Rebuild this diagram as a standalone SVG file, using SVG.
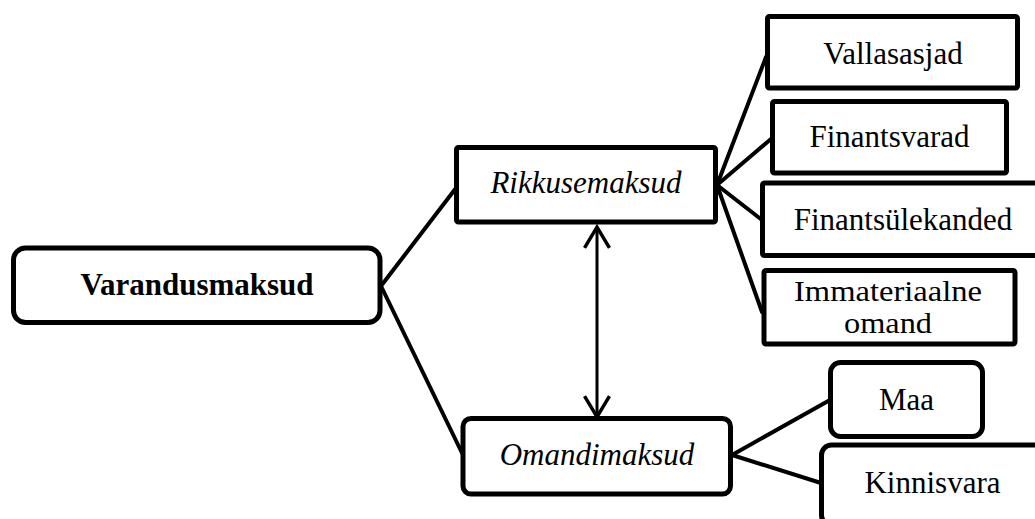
<svg xmlns="http://www.w3.org/2000/svg" width="1035" height="519" viewBox="0 0 1035 519">
<style>
.box{fill:#fff;stroke:#000;stroke-width:5}
.t{font-family:"Liberation Serif","Times New Roman",serif;font-size:31px;fill:#000;text-anchor:middle}
.s{font-size:28.5px}
.b{font-weight:bold}
.i{font-style:italic}
.c{stroke:#000;stroke-width:4;fill:none;stroke-linecap:round}
.arr{stroke:#000;stroke-width:3;fill:none}
</style>
<defs>
<marker id="head" markerUnits="userSpaceOnUse" markerWidth="30" markerHeight="30" viewBox="-20 -13 22 26" refX="0" refY="0" orient="auto-start-reverse">
<path d="M -18 -10.8 L 0 0 L -18 10.8" fill="none" stroke="#000" stroke-width="3"/>
</marker>
</defs>
<rect width="1035" height="519" fill="#fff"/>
<g id="connectors">
<line class="c" x1="381" y1="286" x2="456" y2="188"/>
<line class="c" x1="381" y1="286" x2="463" y2="455"/>
<line class="c" x1="717" y1="185" x2="766" y2="57"/>
<line class="c" x1="717" y1="185" x2="771" y2="139"/>
<line class="c" x1="717" y1="185" x2="762" y2="220"/>
<line class="c" x1="717" y1="185" x2="762" y2="312"/>
<line class="c" x1="732" y1="455" x2="830" y2="400"/>
<line class="c" x1="732" y1="455" x2="821" y2="483"/>
<line class="arr" x1="597" y1="227" x2="597" y2="417" marker-start="url(#head)" marker-end="url(#head)"/>
</g>
<g id="varandusmaksud">
<rect class="box" x="13.5" y="248" width="366.5" height="74.5" rx="12"/>
<text class="t b" x="197" y="295">Varandusmaksud</text>
</g>
<g id="rikkusemaksud">
<rect class="box" x="456.5" y="147.5" width="259" height="74.5" rx="2"/>
<text class="t i" x="586" y="193">Rikkusemaksud</text>
</g>
<g id="omandimaksud">
<rect class="box" x="463" y="418.5" width="267.5" height="75.5" rx="8"/>
<text class="t i" x="597" y="465">Omandimaksud</text>
</g>
<g id="vallasasjad">
<rect class="box" x="767.5" y="16.5" width="250" height="71.5" rx="2"/>
<text class="t" x="893" y="64">Vallasasjad</text>
</g>
<g id="finantsvarad">
<rect class="box" x="772.5" y="101.5" width="234" height="71.5" rx="2"/>
<text class="t" x="889.5" y="147">Finantsvarad</text>
</g>
<g id="finantsulekanded">
<rect class="box" x="762.5" y="183" width="284" height="72.5" rx="2"/>
<text class="t" x="903" y="230">Finantsülekanded</text>
</g>
<g id="immateriaalne">
<rect class="box" x="764" y="270.5" width="251" height="73.5" rx="2"/>
<text class="t s" x="888" y="301" textLength="188" lengthAdjust="spacingAndGlyphs">Immateriaalne</text>
<text class="t s" x="888" y="333" textLength="88" lengthAdjust="spacingAndGlyphs">omand</text>
</g>
<g id="maa">
<rect class="box" x="830.5" y="362.5" width="152" height="74" rx="10"/>
<text class="t" x="906.5" y="410">Maa</text>
</g>
<g id="kinnisvara">
<rect class="box" x="821.5" y="445" width="225" height="80" rx="10"/>
<text class="t" x="932.5" y="493">Kinnisvara</text>
</g>
</svg>
